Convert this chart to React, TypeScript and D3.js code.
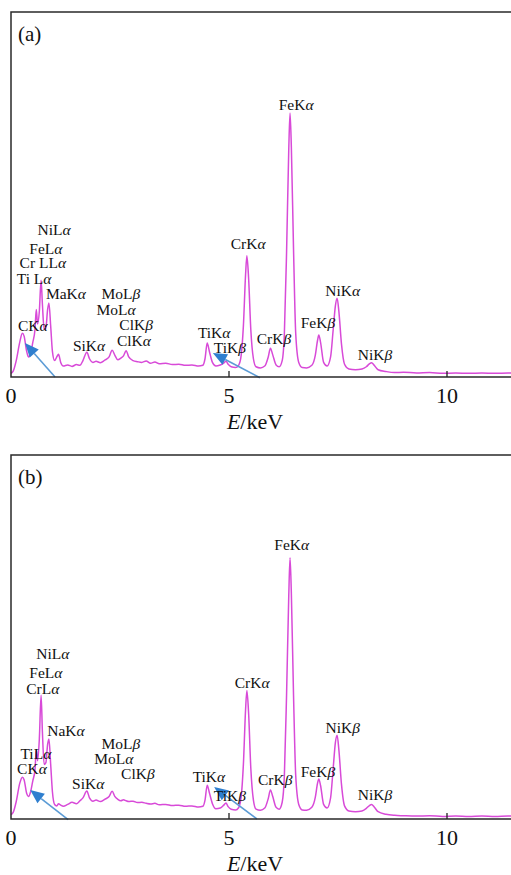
import React from "react";
import * as d3 from "d3";

// energy grid (keV) shared by both spectra
const energyKeV = [
  0.00, 0.05, 0.12, 0.20, 0.26, 0.30, 0.36, 0.40, 0.45, 0.50,
  0.55, 0.58, 0.61, 0.65, 0.69, 0.72, 0.76, 0.80, 0.84, 0.87,
  0.91, 0.95, 1.00, 1.05, 1.09, 1.14, 1.20, 1.30, 1.40, 1.50,
  1.58, 1.65, 1.74, 1.80, 1.88, 1.95, 2.05, 2.15, 2.25, 2.32,
  2.38, 2.45, 2.52, 2.58, 2.64, 2.70, 2.80, 2.90, 3.00, 3.10,
  3.20, 3.30, 3.40, 3.55, 3.70, 3.85, 4.00, 4.15, 4.30, 4.40,
  4.45, 4.50, 4.55, 4.62, 4.70, 4.80, 4.88, 4.93, 4.98, 5.05,
  5.15, 5.22, 5.28, 5.33, 5.38, 5.41, 5.45, 5.50, 5.56, 5.62,
  5.72, 5.82, 5.90, 5.95, 6.00, 6.08, 6.15, 6.22, 6.27, 6.32,
  6.37, 6.40, 6.43, 6.48, 6.53, 6.60, 6.68, 6.78, 6.90, 6.98,
  7.03, 7.06, 7.10, 7.17, 7.25, 7.33, 7.39, 7.44, 7.48, 7.52,
  7.58, 7.65, 7.75, 7.90, 8.05, 8.15, 8.22, 8.27, 8.33, 8.42,
  8.60, 8.80, 9.00, 9.30, 9.60, 9.90, 10.20, 10.50, 10.80, 11.10,
  11.40, 11.70,
];

// counts (a.u.) panel (a)
const countsA = [
  1.0, 1.6, 4.5, 9.5, 12.0, 11.2, 7.0, 5.5, 6.5, 9.5,
  13.0, 18.5, 14.5, 18.0, 26.5, 20.0, 13.0, 13.5, 18.5, 20.3,
  14.0, 7.0, 4.5, 5.5, 6.2, 4.0, 3.0, 3.3, 2.9, 3.4,
  3.2, 4.5, 6.8, 5.0, 4.0, 4.3, 3.9, 4.6, 5.5, 7.3,
  6.0, 4.7, 5.2, 5.8, 7.2, 5.5, 4.5, 4.2, 4.0, 4.4,
  3.8, 4.1, 3.6, 3.8, 3.4, 3.5, 3.2, 3.3, 3.0, 3.2,
  5.0, 9.3, 7.0, 4.0, 3.0, 3.3, 3.8, 4.3, 3.5, 2.8,
  2.6, 3.2, 6.0, 14, 28, 33.2, 27, 13, 5, 2.8,
  2.5, 3.0, 5.5, 7.9, 6.2, 3.3, 2.8, 4.5, 12, 34,
  62, 72.3, 63, 35, 12, 4.0, 2.6, 2.5, 3.2, 6.0,
  10, 11.5, 9.5, 4.0, 3.0, 5.5, 13, 19.5, 21.6, 18,
  9, 3.5, 2.2, 2.0, 2.2, 2.8, 3.6, 3.9, 3.2, 2.0,
  1.5, 1.2, 1.3, 1.1, 1.2, 1.0, 1.1, 1.0, 1.1, 1.0,
  1.1, 1.0,
];

// counts (a.u.) panel (b)
const countsB = [
  1.2, 1.8, 4.8, 9.8, 11.5, 10.8, 7.0, 6.2, 7.5, 10.5,
  13.5, 19.0, 16.0, 22.0, 34.0, 24.0, 15.0, 15.5, 20.5, 22.0,
  15.0, 7.5, 4.0, 3.6, 4.2, 3.8, 3.5, 4.0, 4.6, 4.2,
  5.0, 5.8, 7.7, 5.8, 4.9, 5.2, 4.8, 5.4, 6.2, 7.6,
  6.2, 5.4, 5.0, 5.3, 5.0, 4.8, 4.9, 4.5, 4.6, 4.3,
  4.1, 4.3, 3.9, 4.0, 3.7, 3.8, 3.5, 3.6, 3.3, 3.5,
  5.2, 9.3, 7.2, 4.2, 2.8, 3.0, 3.8, 4.4, 3.4, 2.7,
  2.5, 3.1, 6.2, 15, 30, 35.3, 29, 14, 5.2, 2.7,
  2.4, 3.0, 5.6, 8.0, 6.3, 3.2, 2.7, 4.6, 12, 34,
  61, 71.8, 62, 34, 12, 4.0, 2.5, 2.4, 3.2, 6.0,
  9.8, 11.0, 9.2, 4.0, 3.0, 5.8, 14, 21, 23, 19,
  9.5, 3.6, 2.2, 2.0, 2.2, 2.9, 3.7, 4.0, 3.3, 2.0,
  1.3, 1.0, 0.9, 0.8, 0.9, 0.7, 0.8, 0.7, 0.8, 0.7,
  0.8, 0.7,
];

const xTicks = [0, 5, 10];

// peak labels: [element+line, greek letter, keV, counts]
const labelsA: [string, string, number, number][] = [
  ["NiL", "α", 0.99, 38.9],
  ["FeL", "α", 0.80, 33.7],
  ["Cr LL", "α", 0.73, 29.9],
  ["Ti L", "α", 0.53, 25.5],
  ["MaK", "α", 1.26, 21.4],
  ["MoL", "β", 2.52, 21.4],
  ["MoL", "α", 2.41, 17.0],
  ["ClK", "β", 2.87, 12.9],
  ["ClK", "α", 2.82, 8.5],
  ["CK", "α", 0.50, 12.6],
  ["SiK", "α", 1.79, 7.1],
  ["TiK", "α", 4.66, 10.7],
  ["TiK", "β", 5.02, 6.6],
  ["CrK", "α", 5.44, 35.1],
  ["CrK", "β", 6.03, 9.0],
  ["FeK", "α", 6.54, 73.2],
  ["FeK", "β", 7.04, 13.4],
  ["NiK", "α", 7.61, 22.2],
  ["NiK", "β", 8.35, 4.7],
];

const labelsB: [string, string, number, number][] = [
  ["NiL", "α", 0.96, 44.0],
  ["FeL", "α", 0.80, 38.7],
  ["CrL", "α", 0.73, 34.3],
  ["NaK", "α", 1.26, 22.8],
  ["TiL", "α", 0.57, 16.5],
  ["CK", "α", 0.48, 12.4],
  ["MoL", "β", 2.52, 19.2],
  ["MoL", "α", 2.36, 15.2],
  ["ClK", "β", 2.91, 11.0],
  ["SiK", "α", 1.77, 8.2],
  ["CrK", "α", 5.53, 36.0],
  ["TiK", "α", 4.54, 10.2],
  ["TiK", "β", 5.02, 4.9],
  ["CrK", "β", 6.06, 9.3],
  ["FeK", "β", 7.04, 11.5],
  ["FeK", "α", 6.44, 73.9],
  ["NiK", "β", 7.61, 23.6],
  ["NiK", "β", 8.35, 5.2],
];

// arrows: [tail keV, tail counts, tip keV, tip counts]
const arrowsA: [number, number, number, number][] = [
  [1.01, 0, 0.32, 9.3],
  [5.71, -0.2, 4.63, 6.6],
];
const arrowsB: [number, number, number, number][] = [
  [1.31, -0.2, 0.44, 8.0],
  [5.64, 0, 4.66, 8.8],
];

const FONT = "Liberation Serif";
const LINE = "#d84ad8";
const ARROW_LINE = "#5b9bd5";
const ARROW_HEAD = "#2f7fcf";

const xScale = d3.scaleLinear().domain([0, 10]).range([11, 447]);

function Panel({ top, bottom, counts, labels, arrows, tag }) {
  const yScale = d3.scaleLinear().domain([0, 100]).range([bottom, top]);
  const pts = energyKeV.map((e, i) => [e, counts[i]] as [number, number]);
  const line = d3
    .line<[number, number]>()
    .x((d) => xScale(d[0]))
    .y((d) => yScale(d[1]))
    .curve(d3.curveMonotoneX);
  const right = 540;
  const txt = { fontFamily: FONT };
  return (
    <g>
      <path d={line(pts) || ""} fill="none" stroke={LINE} strokeWidth={1.5} />
      {arrows.map((a, i) => {
        const x1 = xScale(a[0]);
        const y1 = yScale(a[1]);
        const x2 = xScale(a[2]);
        const y2 = yScale(a[3]);
        const ang = Math.atan2(y2 - y1, x2 - x1);
        const L = 14;
        const W = 6;
        const bx = x2 - L * Math.cos(ang);
        const by = y2 - L * Math.sin(ang);
        const px = -Math.sin(ang) * W;
        const py = Math.cos(ang) * W;
        return (
          <g key={i}>
            <line x1={x1} y1={y1} x2={bx} y2={by} stroke={ARROW_LINE} strokeWidth={1.6} />
            <path
              d={`M${x2},${y2}L${bx + px},${by + py}L${bx - px},${by - py}Z`}
              fill={ARROW_HEAD}
            />
          </g>
        );
      })}
      {labels.map((l, i) => (
        <text
          key={i}
          x={xScale(l[2])}
          y={yScale(l[3])}
          textAnchor="middle"
          style={txt}
          fontSize={15.5}
          fill="#111"
        >
          {l[0]}
          <tspan fontStyle="italic">{l[1]}</tspan>
        </text>
      ))}
      <path
        d={`M${right},${top}H11V${bottom}H${right}`}
        fill="none"
        stroke="#2a2a2a"
        strokeWidth={1.5}
      />
      {xTicks.map((t) => (
        <g key={t}>
          {t > 0 && (
            <line x1={xScale(t)} x2={xScale(t)} y1={bottom} y2={bottom - 6} stroke="#222" strokeWidth={1.3} />
          )}
          <text
            x={xScale(t)}
            y={bottom + 26}
            textAnchor="middle"
            style={txt}
            fontSize={22}
            fill="#111"
          >
            {t}
          </text>
        </g>
      ))}
      <text x={255} y={bottom + 52} textAnchor="middle" style={txt} fontSize={22} fill="#111">
        <tspan fontStyle="italic">E</tspan>/keV
      </text>
      <text x={18} y={top + 29} style={txt} fontSize={21} fill="#111">
        {tag}
      </text>
    </g>
  );
}

export default function App() {
  return (
    <svg
      width={511}
      height={875}
      style={{ position: "absolute", left: 0, top: 0, background: "#fff" }}
    >
      <rect width={511} height={875} fill="#fff" />
      <Panel top={12} bottom={377} counts={countsA} labels={labelsA} arrows={arrowsA} tag="(a)" />
      <Panel top={455} bottom={819} counts={countsB} labels={labelsB} arrows={arrowsB} tag="(b)" />
    </svg>
  );
}
